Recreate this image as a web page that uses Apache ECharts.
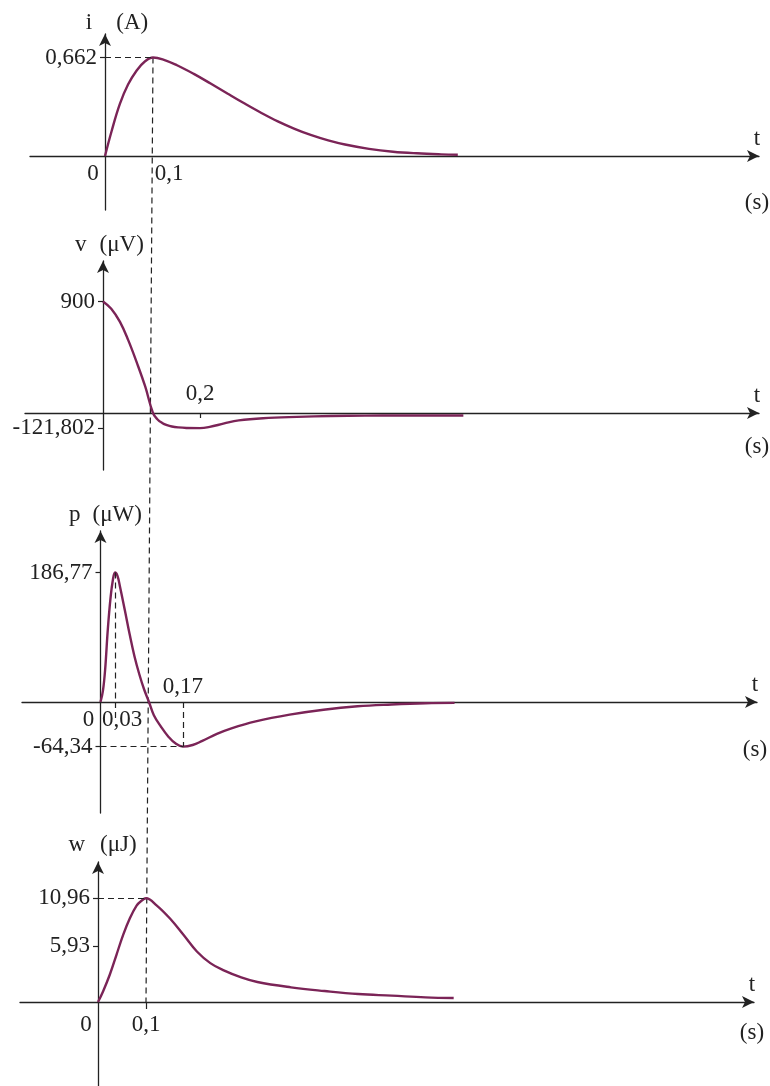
<!DOCTYPE html>
<html><head><meta charset="utf-8">
<script src="https://cdn.jsdelivr.net/npm/echarts@6/dist/echarts.min.js"></script>
<style>html,body{margin:0;padding:0;background:#fff}#c{width:770px;height:1086px}</style>
</head><body><div id="c"></div>
<script>
// ---------------- data ----------------
// current i (A)
const tI   = [0, 0.014, 0.031, 0.048, 0.066, 0.083, 0.1, 0.12, 0.15, 0.185, 0.22, 0.255, 0.29, 0.325, 0.36, 0.395, 0.43, 0.465, 0.5, 0.55, 0.6, 0.65, 0.7, 0.735];
const iVals = [0, 0.17, 0.35, 0.48, 0.575, 0.635, 0.662, 0.65, 0.61, 0.552, 0.487, 0.42, 0.354, 0.291, 0.233, 0.183, 0.14, 0.105, 0.077, 0.048, 0.029, 0.018, 0.011, 0.008];
// voltage v (µV)
const tV   = [0, 0.017, 0.035, 0.052, 0.069, 0.087, 0.103, 0.112, 0.122, 0.132, 0.142, 0.155, 0.172, 0.2, 0.22, 0.25, 0.28, 0.33, 0.4, 0.47, 0.54, 0.61, 0.68, 0.743];
const vVals = [900, 841, 735, 588, 414, 214, 0, -50, -80, -98, -109, -116, -120.5, -121.802, -112, -84, -60, -42, -31, -24, -21, -20, -20, -20];
// power p (µW)
const tP   = [0, 0.005, 0.0096, 0.015, 0.0207, 0.0255, 0.03, 0.035, 0.04, 0.05, 0.06, 0.07, 0.08, 0.09, 0.1, 0.11, 0.125, 0.14, 0.155, 0.17, 0.19, 0.21, 0.24, 0.27, 0.32, 0.39, 0.46, 0.53, 0.6, 0.67, 0.73];
const pVals = [0, 16, 47, 104, 150, 176, 186.77, 182, 167, 133, 98, 66, 40, 18, 0, -19, -36, -50, -60, -64.34, -62, -56, -46, -38, -28, -18.2, -11.1, -6.2, -3.6, -1.8, -1.3];
// energy w (µJ)
const tW   = [0, 0.0105, 0.0245, 0.0385, 0.0524, 0.0664, 0.0804, 0.09, 0.1, 0.122, 0.15, 0.178, 0.206, 0.234, 0.262, 0.297, 0.332, 0.402, 0.472, 0.542, 0.612, 0.682, 0.741];
const wVals = [0, 1.12, 2.88, 4.99, 7.10, 8.85, 10.19, 10.68, 10.96, 10.22, 8.82, 7.10, 5.34, 4.11, 3.34, 2.63, 2.11, 1.55, 1.16, 0.84, 0.67, 0.49, 0.42];

// marked values / tick labels
const iTicks = [0.662];
const vTicks = [900, -121.802];
const pTicks = [186.77, -64.34];
const wTicks = [10.96, 5.93];
const iTimeLabels = [0, 0.1];
const vTimeLabels = [0.2];
const pTimeLabels = [0, 0.03];
const wTimeLabels = [0, 0.1];
const iPeak = [0.1, 0.662];
const pPeak = [0.03, 186.77];
const pMin  = [0.17, -64.34];
const wPeak = [0.1, 10.96];
const qtyNames = [['i', '(A)'], ['v', '(μV)'], ['p', '(μW)'], ['w', '(μJ)']];

// ---------------- style / layout ----------------
const FONT = '"Liberation Serif", "DejaVu Serif", serif';
const CURVE = '#7b2457';
const INK = '#222222';
const FS = 23;
const DASH = {type: [6, 4], color: INK, width: 1.2};
const ARROW = 12;

const layout = [
  {tipY: 28,  bottom: 210,  left: 30, tipX: 765, zeroX: 105,   zeroY: 156, pxT: 480, pxV: (156 - 57.5) / iTicks[0],
   gapN: 11, shiftN: 24, spaceN: 24, tC: -17, sC: 47},
  {tipY: 255, bottom: 470,  left: 25, tipX: 765, zeroX: 103,   zeroY: 413, pxT: 485, pxV: (413 - 301.5) / vTicks[0],
   gapN: 16, shiftN: 13, spaceN: 13, tC: -17, sC: 34},
  {tipY: 525, bottom: 813,  left: 22, tipX: 763, zeroX: 100.5, zeroY: 702, pxT: 485, pxV: (702 - 572.5) / pTicks[0],
   gapN: 16, shiftN: 10, spaceN: 12, tC: -17, sC: 48},
  {tipY: 856, bottom: 1086, left: 20, tipX: 760, zeroX: 98,    zeroY: 1002, pxT: 480, pxV: (1002 - 898.3) / wTicks[0],
   gapN: 17, shiftN: 9, spaceN: 15, tC: -17, sC: 31}
];

const fmt = v => String(v).replace('.', ',');
const zip = (a, b) => a.map((t, k) => [t, b[k]]);
const txt = extra => Object.assign({fontFamily: FONT, fontSize: FS, color: INK}, extra || {});

const grids = [], xAxes = [], yAxes = [];
layout.forEach((L, k) => {
  const top = L.tipY + ARROW / 2;
  const right = L.tipX - ARROW / 2;
  grids.push({left: L.left, top: top, width: right - L.left, height: L.bottom - top,
    containLabel: false, outerBoundsMode: 'none'});
  const L2 = 2 * ((L.sC - L.tC) - 10);
  const P = 2 * L.tC + L2;
  xAxes.push({
    type: 'value', gridIndex: k, position: 'bottom', offset: -(L.bottom - L.zeroY),
    min: -(L.zeroX - L.left) / L.pxT, max: (right - L.zeroX) / L.pxT,
    axisLine: {onZero: false, symbol: ['none', 'arrow'], symbolSize: [9, ARROW], lineStyle: {color: INK, width: 1.3}},
    splitLine: {show: false},
    name: '{t|t}\n{s|(s)}', nameLocation: 'end', nameGap: -2,
    nameTextStyle: {align: 'center', verticalAlign: 'middle', padding: [P, 0, 0, 0],
      rich: {t: txt({lineHeight: 20}), s: txt({lineHeight: L2})}}
  });
  yAxes.push({
    type: 'value', gridIndex: k, position: 'left', offset: -(L.zeroX - L.left),
    min: -(L.bottom - L.zeroY) / L.pxV, max: (L.zeroY - top) / L.pxV,
    axisLine: {onZero: false, symbol: ['none', 'arrow'], symbolSize: [9, ARROW], lineStyle: {color: INK, width: 1.3}},
    splitLine: {show: false},
    name: '{a|' + qtyNames[k][0] + '}{b|' + qtyNames[k][1] + '}',
    nameLocation: 'end', nameGap: L.gapN,
    nameTextStyle: {align: 'center', verticalAlign: 'middle', padding: [0, 0, 0, L.shiftN],
      rich: {a: txt({padding: [0, L.spaceN, 0, 0]}), b: txt()}}
  });
});

// y ticks / labels
[iTicks, vTicks, pTicks, wTicks].forEach((ticks, k) => {
  yAxes[k].axisTick = {show: true, length: 5, customValues: ticks, lineStyle: {color: INK, width: 1.2}};
  yAxes[k].axisLabel = {show: true, customValues: ticks, margin: 8, formatter: v => fmt(v),
    fontFamily: FONT, fontSize: FS, color: INK};
});

// x ticks / labels
const richShift = {
  l:  txt({padding: [0, 24, 0, 0]}),
  r1: txt({padding: [0, 0, 0, 32]}),
  r3: txt({padding: [0, 0, 0, 14]}),
  c:  txt()
};
xAxes[0].axisTick = {show: false};
xAxes[0].axisLabel = {customValues: iTimeLabels, margin: 6, rich: richShift,
  formatter: v => v === 0 ? '{l|0}' : '{r1|' + fmt(v) + '}'};
xAxes[1].axisTick = {show: true, length: 5, customValues: vTimeLabels, lineStyle: {color: INK, width: 1.2}};
xAxes[1].axisLabel = {customValues: vTimeLabels, inside: true, margin: 8, rich: richShift,
  formatter: v => '{c|' + fmt(v) + '}'};
xAxes[2].axisTick = {show: true, length: 20, customValues: [pPeak[0]], lineStyle: {color: INK, width: 1.2, type: [6, 4]}};
xAxes[2].axisLabel = {customValues: pTimeLabels, margin: 6, rich: richShift,
  formatter: v => v === 0 ? '{l|0}' : '{r3|' + fmt(v) + '}'};
xAxes[3].axisTick = {show: true, length: 7, customValues: [wPeak[0]], lineStyle: {color: INK, width: 1.2}};
xAxes[3].axisLabel = {customValues: wTimeLabels, margin: 11, rich: richShift,
  formatter: v => v === 0 ? '{l|0}' : '{c|' + fmt(v) + '}'};

const mk = data => ({silent: true, symbol: ['none', 'none'], label: {show: false}, lineStyle: DASH, data: data});
const curve = (k, t, v, mkData) => ({
  type: 'line', xAxisIndex: k, yAxisIndex: k, data: zip(t, v), showSymbol: false, smooth: 0.4,
  lineStyle: {color: CURVE, width: 2.4}, itemStyle: {color: CURVE}, markLine: mkData ? mk(mkData) : undefined
});

const option = {
  backgroundColor: '#ffffff',
  animation: false,
  grid: grids, xAxis: xAxes, yAxis: yAxes,
  series: [
    curve(0, tI, iVals, [[{coord: [0, iPeak[1]]}, {coord: iPeak}]]),
    curve(1, tV, vVals, null),
    curve(2, tP, pVals, [
      [{coord: [pPeak[0], pPeak[1]]}, {coord: [pPeak[0], 0]}],
      [{coord: [0, pMin[1]]}, {coord: pMin}],
      [{coord: [pMin[0], 0], label: {show: true, position: 'start', distance: 4, formatter: fmt(pMin[0]),
        fontFamily: FONT, fontSize: FS, color: INK}}, {coord: pMin}]
    ]),
    curve(3, tW, wVals, [[{coord: [0, wPeak[1]]}, {coord: wPeak}]])
  ]
};

const chart = echarts.init(document.getElementById('c'), null, {renderer: 'canvas'});
chart.setOption(option);
// long dashed guide at t = 0,1 : from the peak of i down to the t-axis of w
const a = chart.convertToPixel({gridIndex: 0}, iPeak);
const b = chart.convertToPixel({gridIndex: 3}, [wPeak[0], 0]);
chart.setOption({graphic: [{type: 'line', silent: true, z: 1,
  shape: {x1: a[0], y1: a[1], x2: b[0], y2: b[1]},
  style: {stroke: INK, lineWidth: 1.2, lineDash: [6, 4]}}]});
</script>
</body></html>
